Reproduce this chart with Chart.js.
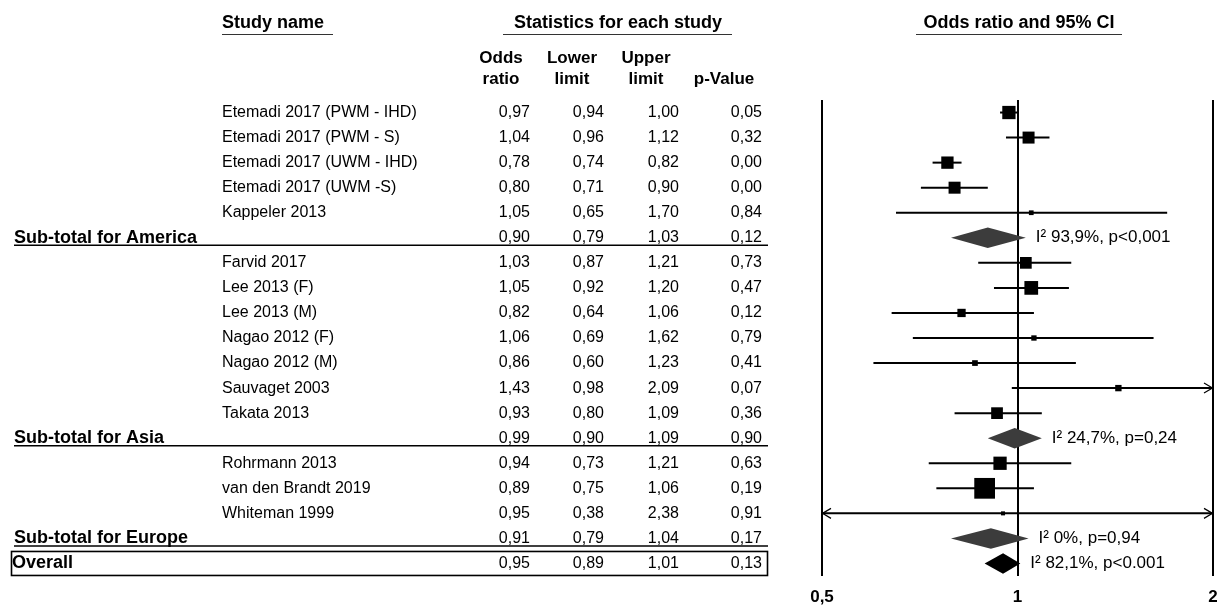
<!DOCTYPE html>
<html>
<head>
<meta charset="utf-8">
<title>Forest plot – odds ratio by region</title>
<script src="https://cdn.jsdelivr.net/npm/chart.js@4.4.1/dist/chart.umd.min.js"></script>
<style>
  html, body { margin: 0; padding: 0; background: #ffffff; }
  canvas { display: block; }
</style>
</head>
<body>
<canvas id="forest" width="1217" height="605"></canvas>
<script>
// ---- data ---------------------------------------------------------------
const rowLabels = [
  'Etemadi 2017 (PWM - IHD)', 'Etemadi 2017 (PWM - S)', 'Etemadi 2017 (UWM - IHD)',
  'Etemadi 2017 (UWM -S)', 'Kappeler 2013', 'Sub-total for America',
  'Farvid 2017', 'Lee 2013 (F)', 'Lee 2013 (M)', 'Nagao 2012 (F)', 'Nagao 2012 (M)',
  'Sauvaget 2003', 'Takata 2013', 'Sub-total for Asia',
  'Rohrmann 2013', 'van den Brandt 2019', 'Whiteman 1999', 'Sub-total for Europe',
  'Overall'
];
const rowKinds = [
  'study', 'study', 'study', 'study', 'study', 'subtotal',
  'study', 'study', 'study', 'study', 'study', 'study', 'study', 'subtotal',
  'study', 'study', 'study', 'subtotal',
  'overall'
];
const oddsRatio  = [0.97, 1.04, 0.78, 0.80, 1.05, 0.90, 1.03, 1.05, 0.82, 1.06, 0.86, 1.43, 0.93, 0.99, 0.94, 0.89, 0.95, 0.91, 0.95];
const lowerLimit = [0.94, 0.96, 0.74, 0.71, 0.65, 0.79, 0.87, 0.92, 0.64, 0.69, 0.60, 0.98, 0.80, 0.90, 0.73, 0.75, 0.38, 0.79, 0.89];
const upperLimit = [1.00, 1.12, 0.82, 0.90, 1.70, 1.03, 1.21, 1.20, 1.06, 1.62, 1.23, 2.09, 1.09, 1.09, 1.21, 1.06, 2.38, 1.04, 1.01];
const pValue     = [0.05, 0.32, 0.00, 0.00, 0.84, 0.12, 0.73, 0.47, 0.12, 0.79, 0.41, 0.07, 0.36, 0.90, 0.63, 0.19, 0.91, 0.17, 0.13];
// relative study weights (box area is proportional to weight)
const studyWeights = [8.7, 7.1, 7.5, 7.1, 1.1, null, 6.8, 9.3, 3.4, 1.4, 1.6, 2.0, 6.8, null, 8.7, 21.2, 0.8, null, null];
const heterogeneity = [
  null, null, null, null, null, 'I\u00B2 93,9%, p<0,001',
  null, null, null, null, null, null, null, 'I\u00B2 24,7%, p=0,24',
  null, null, null, 'I\u00B2 0%, p=0,94',
  'I\u00B2 82,1%, p<0.001'
];
const tickValues = [0.5, 1, 2];
const tickLabels = ['0,5', '1', '2'];
const columnHeaders = [['Odds', 'ratio'], ['Lower', 'limit'], ['Upper', 'limit'], ['', 'p-Value']];

// ---- helpers ------------------------------------------------------------
const X_MIN = 0.5, X_MAX = 2;
const PLOT_LEFT = 822, PLOT_RIGHT = 1213;
const FONT = '"Liberation Sans", Arial, Helvetica, sans-serif';
const fmt = v => v.toFixed(2).replace('.', ',');
const studyRows = rowKinds.map((k, i) => (k === 'study' ? i : -1)).filter(i => i >= 0);
const pooledRows = rowKinds.map((k, i) => (k !== 'study' ? i : -1)).filter(i => i >= 0);
const boxSide = w => 4.5 * Math.sqrt(w);

// confidence interval whiskers, one line per study
const ciDatasets = studyRows.map(i => ({
  type: 'scatter',
  label: rowLabels[i] + ' 95% CI',
  data: [{ x: lowerLimit[i], y: i }, { x: upperLimit[i], y: i }],
  showLine: true,
  borderColor: '#000',
  borderWidth: 2,
  pointRadius: 0,
  pointHoverRadius: 0,
  order: 2
}));

// weighted boxes at each study odds ratio
const boxDataset = {
  type: 'scatter',
  label: 'Odds ratio',
  data: studyRows.map(i => ({ x: oddsRatio[i], y: i })),
  pointStyle: 'rect',
  pointRadius: studyRows.map(i => boxSide(studyWeights[i]) / Math.SQRT2),
  pointHoverRadius: studyRows.map(i => boxSide(studyWeights[i]) / Math.SQRT2),
  pointBackgroundColor: '#000',
  pointBorderWidth: 0,
  order: 1
};

// pooled estimates as diamonds, text table, axis labels and arrows
const forestExtras = {
  id: 'forestExtras',
  beforeDatasetsDraw(chart) {
    const { ctx, scales: { x, y } } = chart;
    ctx.save();
    pooledRows.forEach(i => {
      const xl = x.getPixelForValue(lowerLimit[i]);
      const xc = x.getPixelForValue(oddsRatio[i]);
      const xr = x.getPixelForValue(upperLimit[i]);
      const yc = y.getPixelForValue(i);
      const yt = y.getPixelForValue(i - 0.41);
      const yb = y.getPixelForValue(i + 0.41);
      ctx.beginPath();
      ctx.moveTo(xl, yc);
      ctx.lineTo(xc, yt);
      ctx.lineTo(xr, yc);
      ctx.lineTo(xc, yb);
      ctx.closePath();
      ctx.fillStyle = rowKinds[i] === 'overall' ? '#000' : '#3c3c3c';
      ctx.fill();
    });
    ctx.restore();
  },
  afterDatasetsDraw(chart) {
    const { ctx, scales: { x, y } } = chart;
    ctx.save();
    ctx.strokeStyle = '#000';
    ctx.lineWidth = 1.2;
    studyRows.forEach(i => {
      const yc = y.getPixelForValue(i);
      if (lowerLimit[i] < X_MIN) {
        const xa = x.getPixelForValue(X_MIN);
        ctx.beginPath();
        ctx.moveTo(xa + 9, yc - 5);
        ctx.lineTo(xa + 0.5, yc);
        ctx.lineTo(xa + 9, yc + 5);
        ctx.stroke();
      }
      if (upperLimit[i] > X_MAX) {
        const xa = x.getPixelForValue(X_MAX);
        ctx.beginPath();
        ctx.moveTo(xa - 9, yc - 5);
        ctx.lineTo(xa - 0.5, yc);
        ctx.lineTo(xa - 9, yc + 5);
        ctx.stroke();
      }
    });
    ctx.restore();
  },
  afterDraw(chart) {
    const { ctx, chartArea, scales: { x, y } } = chart;
    ctx.save();
    ctx.fillStyle = '#000';
    ctx.strokeStyle = '#000';
    ctx.textBaseline = 'middle';

    // x axis tick labels
    ctx.font = `bold 17px ${FONT}`;
    ctx.textAlign = 'center';
    tickValues.forEach((v, k) => {
      ctx.fillText(tickLabels[k], x.getPixelForValue(v), chartArea.bottom + 21);
    });

    // section headings with underline
    ctx.font = `bold 18px ${FONT}`;
    const heading = (text, cx, align, x0, x1) => {
      ctx.textAlign = align;
      ctx.fillText(text, cx, 23);
      ctx.beginPath();
      ctx.lineWidth = 1.2;
      ctx.strokeStyle = '#333';
      ctx.moveTo(x0, 34.5);
      ctx.lineTo(x1, 34.5);
      ctx.stroke();
    };
    heading('Study name', 222, 'left', 222, 333);
    heading('Statistics for each study', 618, 'center', 503, 732);
    heading('Odds ratio and 95% CI', 1019, 'center', 916, 1122);

    // column headers
    ctx.font = `bold 17px ${FONT}`;
    ctx.textAlign = 'center';
    const headerCenters = [501, 572, 646, 724];
    columnHeaders.forEach((lines, c) => {
      ctx.fillText(lines[0], headerCenters[c], 58);
      ctx.fillText(lines[1], headerCenters[c], 79);
    });

    // table rows
    const numRight = [530, 604, 679, 762];
    rowKinds.forEach((kind, i) => {
      const yc = y.getPixelForValue(i);
      if (kind === 'study') {
        ctx.font = `16px ${FONT}`;
        ctx.textAlign = 'left';
        ctx.fillText(rowLabels[i], 222, yc);
      } else {
        ctx.font = `bold 18px ${FONT}`;
        ctx.textAlign = 'left';
        ctx.fillText(rowLabels[i], kind === 'overall' ? 12 : 14, yc);
      }
      ctx.font = `16px ${FONT}`;
      ctx.textAlign = 'right';
      [oddsRatio[i], lowerLimit[i], upperLimit[i], pValue[i]].forEach((v, c) => {
        ctx.fillText(fmt(v), numRight[c], yc);
      });
      ctx.strokeStyle = '#000';
      if (kind === 'subtotal') {
        ctx.lineWidth = 1.5;
        ctx.beginPath();
        ctx.moveTo(14, yc + 7.5);
        ctx.lineTo(768, yc + 7.5);
        ctx.stroke();
      } else if (kind === 'overall') {
        ctx.lineWidth = 1.6;
        ctx.strokeRect(11.5, yc - 12, 756, 24);
      }
      if (heterogeneity[i]) {
        ctx.font = `17px ${FONT}`;
        ctx.textAlign = 'left';
        const xs = x.getPixelForValue(Math.max(upperLimit[i], 1)) + 10;
        ctx.fillText(heterogeneity[i], xs, yc);
      }
    });
    ctx.restore();
  }
};

new Chart(document.getElementById('forest'), {
  type: 'scatter',
  data: { datasets: [boxDataset, ...ciDatasets] },
  plugins: [forestExtras],
  options: {
    responsive: false,
    animation: false,
    devicePixelRatio: 1,
    events: [],
    layout: {
      autoPadding: false,
      padding: { left: PLOT_LEFT, right: 1217 - PLOT_RIGHT, top: 100, bottom: 29 }
    },
    plugins: {
      legend: { display: false },
      tooltip: { enabled: false }
    },
    scales: {
      x: {
        type: 'logarithmic',
        position: 'bottom',
        min: X_MIN,
        max: X_MAX,
        afterBuildTicks: scale => { scale.ticks = tickValues.map(v => ({ value: v })); },
        ticks: { display: false },
        grid: { color: '#000', lineWidth: 2, drawTicks: false },
        border: { display: false }
      },
      y: {
        type: 'linear',
        min: -0.5,
        max: 18.5,
        reverse: true,
        display: false
      }
    }
  }
});
</script>
</body>
</html>
